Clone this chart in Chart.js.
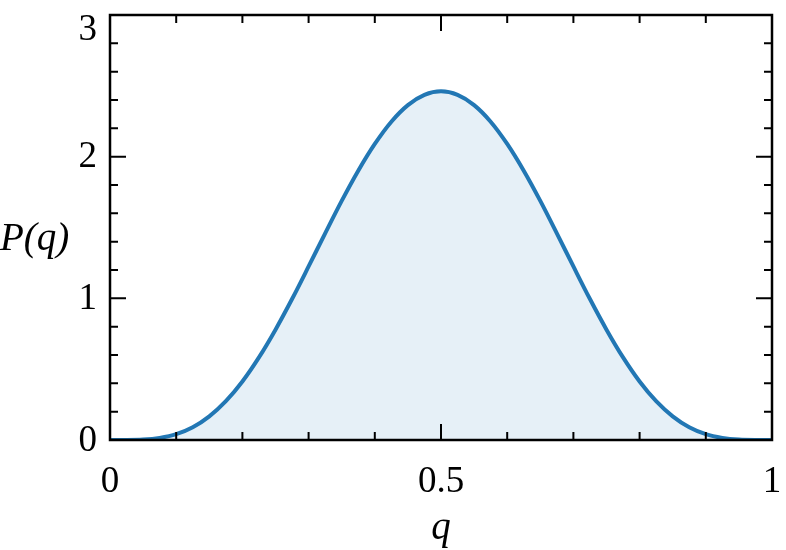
<!DOCTYPE html>
<html>
<head>
<meta charset="utf-8">
<script src="https://cdn.jsdelivr.net/npm/chart.js@4"></script>
<style>
  html, body { margin: 0; padding: 0; background: #fff; }
  #wrap { width: 786px; height: 550px; }
</style>
</head>
<body>
<div id="wrap"><canvas id="pdfChart" width="786" height="550"></canvas></div>
<script>
// values
const qValues = [0, 0.025, 0.05, 0.075, 0.1, 0.125, 0.15, 0.175, 0.2, 0.225, 0.25, 0.275, 0.3, 0.325, 0.35, 0.375, 0.4, 0.425, 0.45, 0.475, 0.5,
                 0.525, 0.55, 0.575, 0.6, 0.625, 0.65, 0.675, 0.7, 0.725, 0.75, 0.775, 0.8, 0.825, 0.85, 0.875, 0.9, 0.925, 0.95, 0.975, 1];
const pValues = [0, 0.0002, 0.003, 0.015, 0.041, 0.09, 0.167, 0.274, 0.413, 0.583, 0.779, 0.995, 1.225, 1.459, 1.688, 1.901, 2.09, 2.247, 2.364, 2.436, 2.461,
                 2.436, 2.364, 2.247, 2.09, 1.901, 1.688, 1.459, 1.225, 0.995, 0.779, 0.583, 0.413, 0.274, 0.167, 0.09, 0.041, 0.015, 0.003, 0.0002, 0];

const xTicks = [0, 0.5, 1];
const xTickLabels = ['0', '0.5', '1'];
const xMinor = [0.1, 0.2, 0.3, 0.4, 0.6, 0.7, 0.8, 0.9];
const yTicks = [0, 1, 2, 3];
const yTickLabels = ['0', '1', '2', '3'];
const yMinor = [0.2, 0.4, 0.6, 0.8, 1.2, 1.4, 1.6, 1.8, 2.2, 2.4, 2.6, 2.8];

const points = qValues.map((q, i) => ({ x: q, y: pValues[i] }));

const SERIF = '"Liberation Serif", "DejaVu Serif", serif';

// frame, inward ticks on all four sides, labels
const framePlugin = {
    id: 'frame',
    afterDraw(chart) {
        const ctx = chart.ctx;
        const a = chart.chartArea;
        const xs = chart.scales.x, ys = chart.scales.y;
        ctx.save();
        ctx.strokeStyle = '#000';
        ctx.lineWidth = 2;
        ctx.beginPath();
        xMinor.forEach(v => {
            const px = xs.getPixelForValue(v);
            ctx.moveTo(px, a.bottom); ctx.lineTo(px, a.bottom - 8);
            ctx.moveTo(px, a.top); ctx.lineTo(px, a.top + 8);
        });
        xTicks.forEach(v => {
            const px = xs.getPixelForValue(v);
            ctx.moveTo(px, a.bottom); ctx.lineTo(px, a.bottom - 16);
            ctx.moveTo(px, a.top); ctx.lineTo(px, a.top + 16);
        });
        yMinor.forEach(v => {
            const py = ys.getPixelForValue(v);
            ctx.moveTo(a.left, py); ctx.lineTo(a.left + 8, py);
            ctx.moveTo(a.right, py); ctx.lineTo(a.right - 8, py);
        });
        yTicks.forEach(v => {
            const py = ys.getPixelForValue(v);
            ctx.moveTo(a.left, py); ctx.lineTo(a.left + 16, py);
            ctx.moveTo(a.right, py); ctx.lineTo(a.right - 16, py);
        });
        ctx.stroke();

        ctx.lineWidth = 2.5;
        ctx.strokeRect(a.left, a.top, a.right - a.left, a.bottom - a.top);

        ctx.fillStyle = '#000';
        ctx.font = '37px ' + SERIF;
        ctx.textAlign = 'right';
        ctx.textBaseline = 'middle';
        yTicks.forEach((v, i) => {
            const py = Math.max(ys.getPixelForValue(v), 29);
            ctx.fillText(yTickLabels[i], a.left - 13, py + 1);
        });
        ctx.textAlign = 'center';
        ctx.textBaseline = 'alphabetic';
        xTicks.forEach((v, i) => {
            ctx.fillText(xTickLabels[i], xs.getPixelForValue(v), 492);
        });

        ctx.font = 'italic 39px ' + SERIF;
        ctx.fillText('q', xs.getPixelForValue(0.5), 539);
        ctx.textAlign = 'left';
        ctx.textBaseline = 'middle';
        ctx.fillText('P(q)', 0, 240);
        ctx.restore();
    }
};

new Chart(document.getElementById('pdfChart'), {
    type: 'line',
    data: {
        datasets: [{
            data: points,
            borderColor: '#2277b4',
            backgroundColor: 'rgba(31,119,180,0.11)',
            borderWidth: 4,
            fill: 'origin',
            pointRadius: 0,
            cubicInterpolationMode: 'monotone'
        }]
    },
    options: {
        responsive: false,
        animation: false,
        layout: { padding: { top: 15, right: 14, left: 0, bottom: 0 } },
        plugins: { legend: { display: false }, tooltip: { enabled: false } },
        scales: {
            x: {
                type: 'linear', min: 0, max: 1,
                grid: { display: false }, border: { display: false },
                ticks: { display: false },
                afterFit: s => { s.height = 110; }
            },
            y: {
                min: 0, max: 3,
                grid: { display: false }, border: { display: false },
                ticks: { display: false },
                afterFit: s => { s.width = 110; }
            }
        }
    },
    plugins: [framePlugin]
});
</script>
</body>
</html>
